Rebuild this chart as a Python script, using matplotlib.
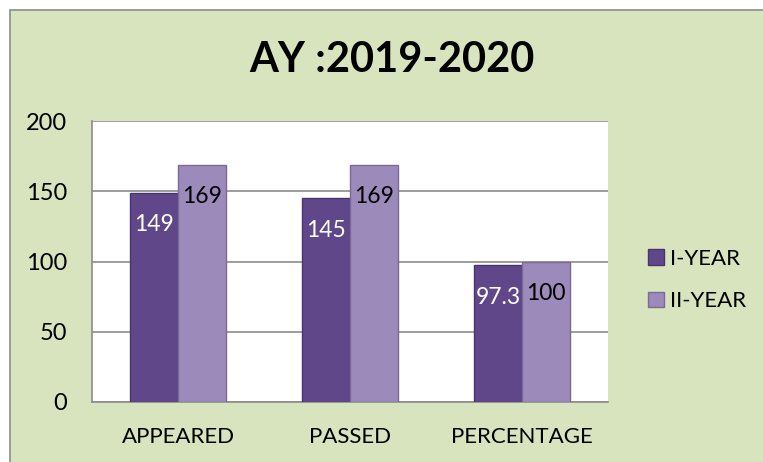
import numpy as np
import matplotlib
matplotlib.use('Agg')
import matplotlib.pyplot as plt
from matplotlib.patches import Rectangle, Patch

plt.rcParams['font.family'] = ['Lato', 'DejaVu Sans']

# data
categories = ['APPEARED', 'PASSED', 'PERCENTAGE']
year1 = [149, 145, 97.3]
year2 = [169, 169, 100]
series_names = ['I-YEAR', 'II-YEAR']
yticks = [0, 50, 100, 150, 200]

W, H = 763, 462
fig = plt.figure(figsize=(W / 100, H / 100), dpi=100)
fig.patch.set_facecolor('white')

# green chart area with grey border (runs off the right/bottom edge)
fig.patches.append(Rectangle((10 / W, -0.1), 1.2, 1 - 10 / H + 0.1,
                             transform=fig.transFigure, facecolor='#D7E4BD',
                             edgecolor='#8c8c8c', linewidth=1.2, zorder=-5))

ax = fig.add_axes([92 / W, 1 - 402 / H, (608 - 92) / W, (402 - 121) / H])
ax.set_facecolor('white')

x = np.arange(len(categories))
bw = 0.28
c1, c2 = '#604789', '#9C8ABB'
b1 = ax.bar(x - bw / 2, year1, bw, color=c1, edgecolor='#4a3470', linewidth=1, zorder=3)
b2 = ax.bar(x + bw / 2, year2, bw, color=c2, edgecolor='#7a6a98', linewidth=1, zorder=3)

# inside-end value labels
for bars, vals, col in [(b1, year1, 'white'), (b2, year2, 'black')]:
    for r, v in zip(bars, vals):
        ax.annotate(f'{v:g}', (r.get_x() + r.get_width() / 2, r.get_height()),
                    xytext=(0, -23), textcoords='offset points',
                    ha='center', va='center', fontsize=16.5, color=col, zorder=4)

ax.set_xlim(-0.5, len(categories) - 0.5)
ax.set_ylim(0, 200)
ax.set_yticks(yticks)
ax.set_xticks(x)
ax.set_xticklabels(categories)
ax.tick_params(axis='y', length=0, pad=18, labelsize=17)
ax.tick_params(axis='x', length=0, pad=18, labelsize=16)
ax.yaxis.grid(True, color='#8c8c8c', linewidth=1.2)
ax.set_axisbelow(True)
for s in ['top', 'right']:
    ax.spines[s].set_visible(False)
for s in ['left', 'bottom']:
    ax.spines[s].set_color('#8c8c8c')
    ax.spines[s].set_linewidth(1.2)

fig.text(392 / W, 1 - 60 / H, 'AY :2019-2020', ha='center', va='center',
         fontsize=30, fontweight='bold')

handles = [Patch(facecolor=c1, edgecolor='#4a3470'), Patch(facecolor=c2, edgecolor='#7a6a98')]
ax.legend(handles, series_names, loc='center left', bbox_to_anchor=(628 / W, 1 - 280 / H),
          bbox_transform=fig.transFigure, frameon=False, fontsize=16,
          handlelength=0.7, handleheight=0.7, handletextpad=0.3, labelspacing=1.0)

fig.savefig('out.png', dpi=100)
